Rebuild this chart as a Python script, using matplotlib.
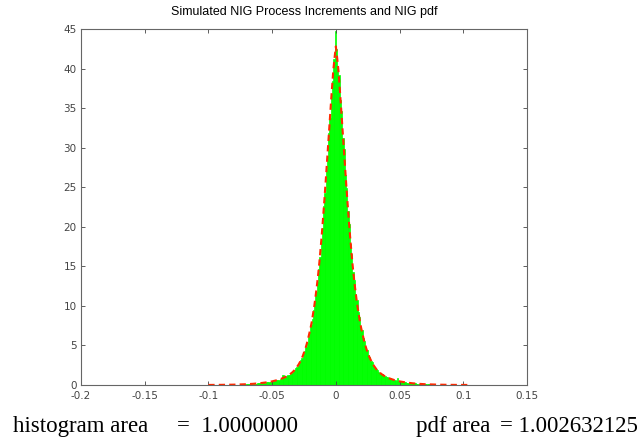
import numpy as np
import matplotlib
matplotlib.use("Agg")
import matplotlib.pyplot as plt

# histogram of simulated increments (bin width 0.001)
bin_width = 0.001
bin_start = -0.075
hist_heights = [
    # -0.0745 ... -0.0005
    0.07, 0.08, 0.08, 0.09, 0.10, 0.11, 0.12, 0.13, 0.14, 0.15,
    0.16, 0.17, 0.18, 0.20, 0.21, 0.23, 0.25, 0.27, 0.29, 0.31,
    0.33, 0.37, 0.38, 0.43, 0.44, 0.49, 0.51, 0.57, 0.59, 0.66,
    0.68, 0.76, 0.80, 1.25, 0.93, 1.05, 1.08, 1.22, 1.28, 1.45,
    1.52, 1.73, 1.84, 2.10, 2.24, 2.55, 2.75, 3.15, 3.40, 3.90,
    4.25, 4.85, 5.35, 6.10, 6.70, 7.60, 8.30, 9.50, 10.40, 11.80,
    13.00, 14.70, 16.20, 18.30, 19.90, 22.60, 24.30, 27.20, 29.00, 31.90,
    33.80, 36.80, 38.40, 41.20, 44.80,
    # 0.0005 ... 0.0745
    42.50, 40.10, 39.20, 36.00, 34.60, 31.20, 29.80, 26.50, 24.90, 22.00,
    20.40, 17.80, 16.50, 14.30, 13.30, 11.50, 10.70, 9.20, 8.60, 7.30,
    6.90, 5.90, 5.50, 4.70, 4.40, 3.80, 3.50, 3.00, 2.85, 2.45,
    2.30, 2.00, 1.90, 1.65, 1.58, 1.38, 1.33, 1.17, 1.12, 1.00,
    0.97, 0.85, 0.83, 0.72, 0.74, 0.62, 0.61, 0.55, 0.85, 0.47,
    0.46, 0.41, 0.40, 0.35, 0.34, 0.30, 0.30, 0.26, 0.26, 0.22,
    0.22, 0.19, 0.19, 0.16, 0.17, 0.14, 0.15, 0.12, 0.13, 0.11,
    0.10, 0.09, 0.09, 0.08, 0.08,
]

# NIG density evaluated on the increments' range
pdf_x = [-0.100, -0.090, -0.080, -0.070, -0.065, -0.060, -0.055, -0.050,
         -0.046, -0.043, -0.040, -0.038, -0.036, -0.034, -0.032, -0.030,
         -0.029, -0.028, -0.027, -0.026, -0.025, -0.024, -0.023, -0.022,
         -0.021, -0.020, -0.019, -0.018, -0.017, -0.016, -0.015, -0.014,
         -0.013, -0.012, -0.011, -0.010, -0.009, -0.008, -0.007, -0.006,
         -0.005, -0.004, -0.003, -0.002, -0.001, 0.000,
         0.001, 0.002, 0.003, 0.004, 0.005, 0.006, 0.007, 0.008,
         0.009, 0.010, 0.011, 0.012, 0.013, 0.014, 0.015, 0.016,
         0.017, 0.018, 0.019, 0.020, 0.021, 0.022, 0.023, 0.024,
         0.025, 0.026, 0.027, 0.028, 0.029, 0.030, 0.032, 0.034,
         0.036, 0.038, 0.040, 0.043, 0.046, 0.050, 0.055, 0.060,
         0.065, 0.070, 0.080, 0.090, 0.100, 0.105]
pdf_y = [0.009, 0.02, 0.045, 0.10, 0.15, 0.22, 0.32, 0.46,
         0.62, 0.78, 0.98, 1.15, 1.36, 1.62, 1.95, 2.40,
         2.65, 2.95, 3.30, 3.65, 4.10, 4.55, 5.10, 5.70,
         6.40, 7.10, 7.90, 8.90, 9.90, 11.10, 12.40, 13.80,
         15.40, 17.20, 19.10, 21.20, 23.40, 25.70, 28.10, 30.50,
         32.90, 35.30, 37.60, 39.80, 41.40, 42.80,
         41.40, 39.80, 37.60, 35.30, 32.90, 30.50, 28.10, 25.70,
         23.40, 21.20, 19.10, 17.20, 15.40, 13.80, 12.40, 11.10,
         9.90, 8.90, 7.90, 7.10, 6.40, 5.70, 5.10, 4.55,
         4.10, 3.65, 3.30, 2.95, 2.65, 2.40, 1.95, 1.62,
         1.36, 1.15, 0.98, 0.78, 0.62, 0.46, 0.32, 0.22,
         0.15, 0.10, 0.045, 0.02, 0.009, 0.006]

hist_area = "1.0000000"
pdf_area = "1.002632125"

fig = plt.figure(figsize=(6.42, 4.47), dpi=100)
ax = fig.add_axes([0.126, 0.1387, 0.695, 0.7964])

centers = bin_start + bin_width / 2 + bin_width * np.arange(len(hist_heights))
ax.bar(centers, hist_heights, width=bin_width, color="#00ff00",
       edgecolor="#00ff00", linewidth=0.5)
ax.plot(pdf_x, pdf_y, color="#ff2a00", linestyle="--", dashes=(3, 2), linewidth=1.5)

ax.set_xlim(-0.2, 0.15)
ax.set_ylim(0, 45)
ax.set_xticks([-0.2, -0.15, -0.1, -0.05, 0, 0.05, 0.1, 0.15])
ax.set_xticklabels(["-0.2", "-0.15", "-0.1", "-0.05", "0", "0.05", "0.1", "0.15"])
ax.set_yticks(range(0, 46, 5))
ax.tick_params(direction="in", top=True, right=True, length=3, width=0.6,
               labelsize=7.5, colors="#444444")
ax.tick_params(axis="x", pad=4)
ax.tick_params(axis="y", pad=3)
for s in ax.spines.values():
    s.set_color("#666666")
    s.set_linewidth(0.8)

ax.set_title("Simulated NIG Process Increments and NIG pdf", fontsize=9,
             family="Liberation Sans", pad=10)

# the two area readouts under the plot
txt = dict(family="Liberation Serif", fontsize=16.5, va="center")
fig.text(13 / 642, 0.045, "histogram area", **txt)
fig.text(177 / 642, 0.045, "=  " + hist_area, **txt)
fig.text(416 / 642, 0.045, "pdf area", **txt)
fig.text(638 / 642, 0.045, "= " + pdf_area, ha="right", **txt)

fig.savefig("out.png", dpi=100)
